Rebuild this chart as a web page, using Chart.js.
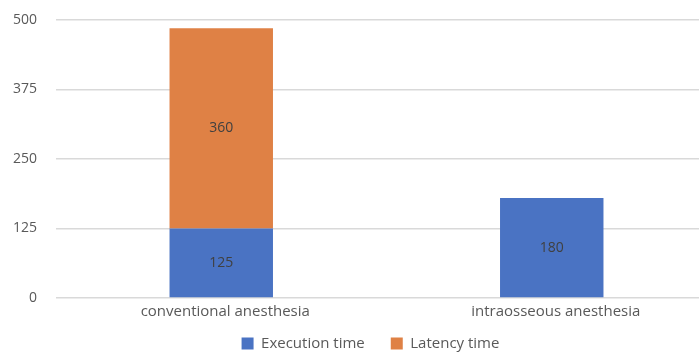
<!DOCTYPE html>
<html>
<head>
<meta charset="utf-8">
<script src="https://cdn.jsdelivr.net/npm/chart.js@4"></script>
<style>
  html, body { margin: 0; padding: 0; background: #ffffff; overflow: hidden; }
  #wrap { width: 699px; height: 352px; position: relative; overflow: hidden; }
</style>
</head>
<body>
<div id="wrap"><canvas id="chart" width="717" height="352"></canvas></div>
<script>
// Anesthesia timing: stacked execution + latency per technique
const categories = ['conventional anesthesia', 'intraosseous anesthesia'];
const executionTime = [125, 180];
const latencyTime = [360, null];
const yTicks = [0, 125, 250, 375, 500];

const FONT = '"Open Sans", Lato, sans-serif';
const TEXT_GRAY = '#595959';
const LEGEND_HEIGHT = 32;

// Value labels centred in each stacked segment
const segmentLabels = {
  id: 'segmentLabels',
  afterDatasetsDraw(chart) {
    const ctx = chart.ctx;
    ctx.save();
    ctx.font = '14px ' + FONT;
    ctx.fillStyle = '#404040';
    ctx.textAlign = 'center';
    ctx.textBaseline = 'middle';
    chart.data.datasets.forEach((ds, di) => {
      const meta = chart.getDatasetMeta(di);
      meta.data.forEach((bar, i) => {
        const v = ds.data[i];
        if (v === null || v === undefined) return;
        const p = bar.getProps(['x', 'y', 'base'], true);
        ctx.fillText(String(v), p.x, (p.y + p.base) / 2);
      });
    });
    ctx.restore();
  }
};

// Compact legend row: fixed height, nudged right
const legendTweak = {
  id: 'legendTweak',
  beforeLayout(chart) {
    const lg = chart.legend;
    if (!lg || lg._compact) return;
    const fit = lg.fit;
    lg.fit = function () { fit.call(this); this.height = LEGEND_HEIGHT; };
    lg._compact = true;
  },
  afterLayout(chart) {
    const lg = chart.legend;
    if (!lg) return;
    lg.left += 12;
    lg.right += 12;
    lg.top -= 10;
    lg.bottom += 10;
  }
};

new Chart(document.getElementById('chart'), {
  type: 'bar',
  data: {
    labels: categories,
    datasets: [
      { label: 'Execution time', data: executionTime, backgroundColor: '#4A73C3' },
      { label: 'Latency time', data: latencyTime, backgroundColor: '#DF8145' }
    ]
  },
  options: {
    responsive: false,
    animation: false,
    layout: { padding: { top: 20, right: 0, left: 0, bottom: 0 } },
    datasets: { bar: { categoryPercentage: 1, barPercentage: 0.313 } },
    plugins: {
      legend: {
        position: 'bottom',
        labels: {
          boxWidth: 12, boxHeight: 12, padding: 26,
          color: TEXT_GRAY,
          font: { family: FONT, size: 15 },
          useBorderRadius: false
        }
      },
      tooltip: { enabled: false }
    },
    scales: {
      x: {
        stacked: true,
        afterFit(scale) { scale.height = 22; },
        grid: { display: false, drawTicks: false },
        border: { display: false },
        ticks: { color: TEXT_GRAY, font: { family: FONT, size: 15 }, padding: 5, labelOffset: 4, maxRotation: 0 }
      },
      y: {
        stacked: true,
        min: 0, max: 500,
        afterBuildTicks(scale) { scale.ticks = yTicks.map(v => ({ value: v })); },
        afterFit(scale) { scale.width = 56; scale.paddingTop = 0; scale.paddingBottom = 0; },
        grid: { color: '#D9D9D9', lineWidth: 1.5, drawTicks: false },
        border: { display: false },
        ticks: { color: TEXT_GRAY, font: { family: FONT, size: 14 }, padding: 19 }
      }
    }
  },
  plugins: [segmentLabels, legendTweak]
});
</script>
</body>
</html>
